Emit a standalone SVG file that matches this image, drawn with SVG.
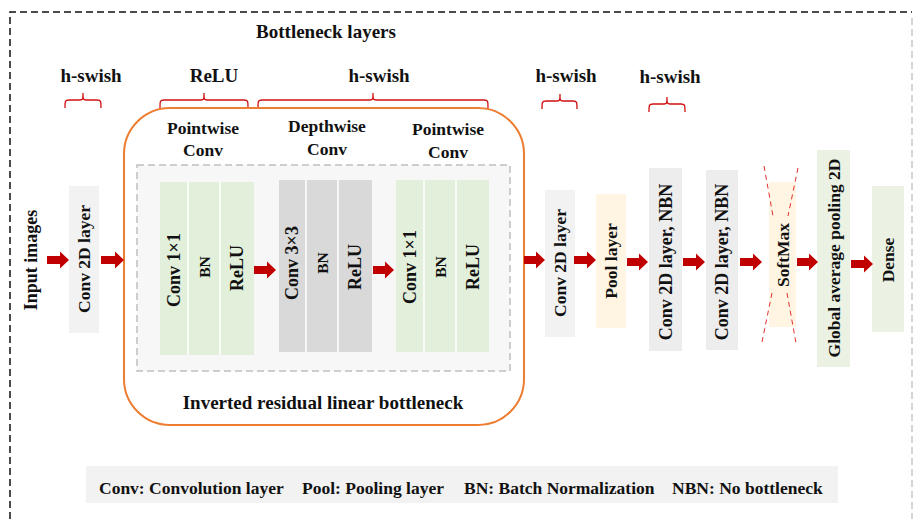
<svg xmlns="http://www.w3.org/2000/svg" width="914" height="519" viewBox="0 0 914 519">
<style>
text{font-family:"Liberation Serif","Times New Roman",serif;font-weight:bold;fill:#111}
.t19{font-size:19px;text-anchor:middle}
.t17{font-size:17.5px;text-anchor:middle}
.r{font-size:17.5px;text-anchor:middle;dominant-baseline:central}
.ri{font-size:18px;text-anchor:middle;dominant-baseline:central}
.bn{font-size:15.5px;text-anchor:middle;dominant-baseline:central}
.arr{fill:#c00000}
.brace{fill:none;stroke:#d01010;stroke-width:1.3}
.div{stroke:#ffffff;stroke-width:1.5}
.sm{stroke:#e03030;stroke-width:1;stroke-dasharray:5 4;fill:none}
</style>
<rect width="914" height="519" fill="#ffffff"/>
<g id="frame">
<path d="M10 519 V12 H912" fill="none" stroke="#111" stroke-width="1.5" stroke-dasharray="7 4"/>
<path d="M912 18 V519" fill="none" stroke="#c8c8c8" stroke-width="1.5" stroke-dasharray="7 4"/>
</g>
<g id="title"><text class="t19" x="326" y="38">Bottleneck layers</text></g>
<g id="activations">
<text class="t19" x="91" y="82">h-swish</text>
<text class="t19" x="214" y="82">ReLU</text>
<text class="t19" x="379" y="82">h-swish</text>
<text class="t19" x="566" y="82">h-swish</text>
<text class="t19" x="670" y="83">h-swish</text>
<path class="brace" d="M65 108 C65 101 65 100 69 100 H80 C83 100 83 99 83 93 C83 99 83 100 86 100 H97 C101 100 101 101 101 108"/>
<path class="brace" d="M160 108 C160 101 160 100 164 100 H201 C204 100 204 99 204 93 C204 99 204 100 207 100 H244 C248 100 248 101 248 108"/>
<path class="brace" d="M258 108 C258 101 258 100 262 100 H370 C373 100 373 99 373 93 C373 99 373 100 376 100 H484 C488 100 488 101 488 108"/>
<path class="brace" d="M542 109 C542 102 542 101 546 101 H557 C560 101 560 100 560 94 C560 100 560 101 563 101 H573 C577 101 577 102 577 109"/>
<path class="brace" d="M649 112 C649 105 649 104 653 104 H664 C667 104 667 103 667 97 C667 103 667 104 670 104 H681 C685 104 685 105 685 112"/>
</g>
<g id="input"><text class="ri" transform="translate(31,260) rotate(-90)">Input images</text></g>
<g id="conv2d-1">
<rect x="69" y="186" width="30" height="147" fill="#f2f2f2"/>
<text class="r" transform="translate(84,259) rotate(-90)">Conv 2D layer</text>
</g>
<g id="bottleneck">
<rect x="124" y="108" width="400" height="317" rx="46" ry="46" fill="#ffffff" stroke="#ed7d31" stroke-width="2"/>
<rect x="137" y="165" width="373" height="206" fill="#f7f7f7" stroke="#c0c0c0" stroke-width="1.5" stroke-dasharray="7 4"/>
<text class="t17" x="203" y="134">Pointwise</text>
<text class="t17" x="203" y="156">Conv</text>
<text class="t17" x="327" y="132">Depthwise</text>
<text class="t17" x="327" y="155">Conv</text>
<text class="t17" x="448" y="135">Pointwise</text>
<text class="t17" x="448" y="158">Conv</text>
<text class="t19" x="323" y="409">Inverted residual linear bottleneck</text>
</g>
<g id="pw1">
<rect x="160" y="182" width="94" height="173" fill="#e2efda"/>
<line class="div" x1="188" y1="182" x2="188" y2="355"/>
<line class="div" x1="220" y1="182" x2="220" y2="355"/>
<text class="ri" transform="translate(174,270) rotate(-90)">Conv 1×1</text>
<text class="bn" transform="translate(204,267) rotate(-90)">BN</text>
<text class="ri" transform="translate(237,268) rotate(-90)">ReLU</text>
</g>
<g id="dw">
<rect x="279" y="180" width="93" height="172" fill="#d9d9d9"/>
<line class="div" x1="306" y1="180" x2="306" y2="352"/>
<line class="div" x1="338" y1="180" x2="338" y2="352"/>
<text class="ri" transform="translate(292,263) rotate(-90)">Conv 3×3</text>
<text class="bn" transform="translate(322,263) rotate(-90)">BN</text>
<text class="ri" transform="translate(355,267) rotate(-90)">ReLU</text>
</g>
<g id="pw2">
<rect x="396" y="180" width="93" height="172" fill="#e2efda"/>
<line class="div" x1="424" y1="180" x2="424" y2="352"/>
<line class="div" x1="456" y1="180" x2="456" y2="352"/>
<text class="ri" transform="translate(410,267) rotate(-90)">Conv 1×1</text>
<text class="bn" transform="translate(440,267) rotate(-90)">BN</text>
<text class="ri" transform="translate(473,267) rotate(-90)">ReLU</text>
</g>
<g id="conv2d-2">
<rect x="545" y="190" width="30" height="147" fill="#f2f2f2"/>
<text class="r" transform="translate(560,263) rotate(-90)">Conv 2D layer</text>
</g>
<g id="pool">
<rect x="596" y="194" width="30" height="134" fill="#fff5e2"/>
<text class="r" transform="translate(611,261) rotate(-90)">Pool layer</text>
</g>
<g id="nbn1">
<rect x="649" y="168" width="33" height="183" fill="#ededed"/>
<text class="ri" transform="translate(665.5,262) rotate(-90)">Conv 2D layer, NBN</text>
</g>
<g id="nbn2">
<rect x="706" y="170" width="32" height="180" fill="#ededed"/>
<text class="ri" transform="translate(722,262) rotate(-90)">Conv 2D layer, NBN</text>
</g>
<g id="softmax">
<rect x="769" y="182" width="27" height="145" fill="#fff5e2"/>
<path class="sm" d="M764 166 L773 216 M787 293 L796 343"/>
<path class="sm" d="M798 168 L788 216 M772 293 L762 342"/>
<text class="r" transform="translate(783,255) rotate(-90)">SoftMax</text>
</g>
<g id="gap">
<rect x="817" y="150" width="33" height="217" fill="#ebf1e3"/>
<text class="r" transform="translate(833.5,258) rotate(-90)">Global average pooling 2D</text>
</g>
<g id="dense">
<rect x="872" y="186" width="32" height="146" fill="#ebf1e3"/>
<text class="r" transform="translate(888,260) rotate(-90)">Dense</text>
</g>
<g id="connectors">
<path class="arr" d="M47 256 H60 V251.5 L69 260 L60 268.5 V264 H47 Z"/>
<path class="arr" d="M101 256 H115 V251.5 L124 260 L115 268.5 V264 H101 Z"/>
<path class="arr" d="M254 266 H267 V261.5 L276 270 L267 278.5 V274 H254 Z"/>
<path class="arr" d="M373 266 H385 V261.5 L394 270 L385 278.5 V274 H373 Z"/>
<path class="arr" d="M524 256 H536 V251.5 L545 260 L536 268.5 V264 H524 Z"/>
<path class="arr" d="M574 256 H587 V251.5 L596 260 L587 268.5 V264 H574 Z"/>
<path class="arr" d="M627 258 H639 V253.5 L648 262 L639 270.5 V266 H627 Z"/>
<path class="arr" d="M683 258 H696 V253.5 L705 262 L696 270.5 V266 H683 Z"/>
<path class="arr" d="M740 258 H753 V253.5 L762 262 L753 270.5 V266 H740 Z"/>
<path class="arr" d="M797 258 H809 V253.5 L818 262 L809 270.5 V266 H797 Z"/>
<path class="arr" d="M851 260 H864 V255.5 L873 264 L864 272.5 V268 H851 Z"/>
</g>
<g id="legend">
<rect x="86" y="466" width="752" height="37" fill="#f2f2f2"/>
<text x="99" y="494" font-size="17.5">Conv: Convolution layer</text>
<text x="302" y="494" font-size="17.5">Pool: Pooling layer</text>
<text x="464" y="494" font-size="17.5">BN: Batch Normalization</text>
<text x="672" y="494" font-size="17.5">NBN: No bottleneck</text>
</g>
</svg>
